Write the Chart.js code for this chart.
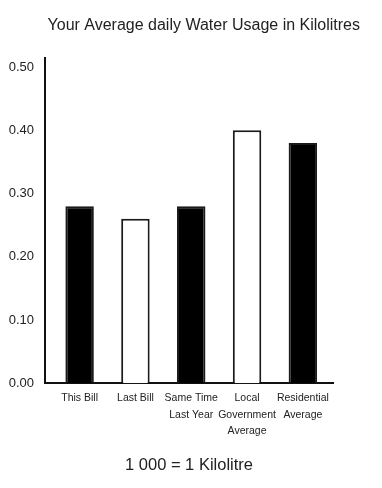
<!DOCTYPE html>
<html>
<head>
<meta charset="utf-8">
<script src="https://cdn.jsdelivr.net/npm/chart.js@4"></script>
<style>
html,body{margin:0;padding:0;background:#fff;}
canvas{display:block;}
</style>
</head>
<body>
<canvas id="c" width="382" height="488"></canvas>
<script>
const categories = [["This Bill"], ["Last Bill"], ["Same Time", "Last Year"], ["Local", "Government", "Average"], ["Residential", "Average"]];
const usage = [0.28, 0.26, 0.28, 0.40, 0.38];
const barFills = ["#000000", "#ffffff", "#000000", "#ffffff", "#000000"];
const yTicks = [0, 0.1, 0.2, 0.3, 0.4, 0.5];
const titleText = "Your Average daily Water Usage in Kilolitres";
const footerText = "1 000 = 1 Kilolitre";

const FONT = "'Liberation Sans', Arial, sans-serif";

new Chart(document.getElementById('c'), {
  type: 'bar',
  data: {
    datasets: [{
      data: usage.map((v, i) => ({ x: i, y: v })),
      backgroundColor: barFills,
      borderColor: '#1a1a1a',
      borderWidth: 2,
      borderSkipped: 'bottom',
      categoryPercentage: 1,
      barPercentage: 0.51
    }]
  },
  options: {
    responsive: false,
    animation: false,
    devicePixelRatio: 1,
    layout: { padding: { left: 0, right: 22, top: 0, bottom: 0 } },
    plugins: {
      legend: { display: false },
      tooltip: { enabled: false },
      title: {
        display: true,
        align: 'end',
        text: titleText,
        color: '#222',
        font: { family: FONT, size: 16, weight: 'normal', lineHeight: 1.2 },
        padding: { top: 16, bottom: 23 }
      },
      subtitle: {
        display: true,
        position: 'bottom',
        fullSize: false,
        text: footerText,
        color: '#222',
        font: { family: FONT, size: 16.5, weight: 'normal', lineHeight: 1.2 },
        padding: { top: 12, bottom: 13 }
      }
    },
    scales: {
      x: {
        type: 'linear',
        min: -0.62,
        max: 4.54,
        offset: false,
        grid: { display: false, drawTicks: false },
        border: { display: true, color: '#111', width: 2 },
        afterBuildTicks: (s) => { s.ticks = categories.map((c, i) => ({ value: i })); },
        ticks: {
          color: '#222',
          font: { family: FONT, size: 10.5, lineHeight: 1.55 },
          padding: 7,
          maxRotation: 0,
          minRotation: 0,
          autoSkip: false,
          callback: (v) => categories[v]
        },
        afterFit: (s) => { s.height = 60; }
      },
      y: {
        min: 0,
        max: 0.514,
        grid: { display: false, drawTicks: false },
        border: { display: true, color: '#111', width: 2 },
        afterBuildTicks: (s) => { s.ticks = yTicks.map(v => ({ value: v })); },
        ticks: {
          color: '#222',
          font: { family: FONT, size: 13 },
          padding: 11,
          callback: (v) => Number(v).toFixed(2)
        },
        afterFit: (s) => { s.width = 45; }
      },
      yRight: {
        position: 'right',
        display: true,
        grid: { display: false, drawTicks: false },
        border: { display: false },
        ticks: { display: false },
        afterFit: (s) => { s.width = 27; }
      }
    }
  }
});
</script>
</body>
</html>
